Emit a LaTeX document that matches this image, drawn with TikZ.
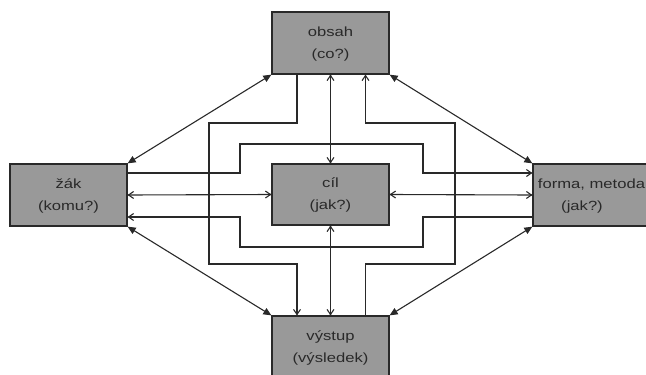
\documentclass[tikz,border=0pt]{standalone}
\usepackage{fontspec}
\setmainfont{Liberation Sans}[FakeStretch=1.25]
\usetikzlibrary{arrows.meta}
\definecolor{boxfill}{gray}{0.6}
\definecolor{ink}{gray}{0.16}
\begin{document}
\begin{tikzpicture}[x=1pt,y=-1pt,
  box/.style={draw=ink, fill=boxfill, line width=1.3pt, minimum width=117pt, minimum height=62pt, inner sep=0pt, text=ink, font=\fontsize{13.3}{22}\selectfont},
  link/.style={draw=ink, line width=1.1pt},
  barb/.style={link, -{Straight Barb[length=5pt,width=7pt]}},
  dbarb/.style={link, {Straight Barb[length=5pt,width=7pt]}-{Straight Barb[length=5pt,width=7pt]}},
  tri/.style={link, {Triangle[length=8pt,width=7pt]}-{Triangle[length=8pt,width=7pt]}},
  tipdot/.style={fill=ink}
]
\useasboundingbox (0,0) rectangle (646,375);
\clip (0,0) rectangle (646,375);

\node[box] (obsah) at (330.5,43) {\begin{tabular}{@{}c@{}}obsah\\(co?)\end{tabular}};
\node[box, minimum height=61pt] (cil) at (330.5,194.5) {\begin{tabular}{@{}c@{}}cíl\\(jak?)\end{tabular}};
\node[box] (vystup) at (330.5,347) {\begin{tabular}{@{}c@{}}výstup\\(výsledek)\end{tabular}};
\node[box] (zak) at (68.5,195) {\begin{tabular}{@{}c@{}}žák\\(komu?)\end{tabular}};
\node[box] (forma) at (591.5,195) {\begin{tabular}{@{}c@{}}forma, metoda\\(jak?)\hspace*{19pt}\end{tabular}};

% diagonal double arrows
\draw[tri] (obsah.south west) -- (zak.north east);
\draw[tri] (obsah.south east) -- (forma.north west);
\draw[tri] (zak.south east) -- (vystup.north west);
\draw[tri] (forma.south west) -- (vystup.north east);

% straight double arrows to the centre
\draw[dbarb] (obsah.south) -- (cil.north);
\draw[dbarb] (cil.south) -- (vystup.north);
\draw[dbarb] (zak.east) -- (cil.west);
\draw[dbarb] (cil.east) -- (forma.west);

% elbow connectors
\draw[barb] ([yshift=22pt]zak.east) -| (240,144) -| (423,173) -- ([yshift=22pt]forma.west);
\draw[barb] ([yshift=-22pt]forma.west) -| (423,247) -| (240,217) -- ([yshift=-22pt]zak.east);
\draw[barb] ([xshift=-33.5pt]obsah.south) |- (209,123) |- (297,264) -- ([xshift=-33.5pt]vystup.north);
\draw[barb] ([xshift=35pt]vystup.north) |- (455,264) |- (365.5,123) -- ([xshift=35pt]obsah.south);

% tip dots
\foreach \p in {obsah.south, cil.north, cil.south, vystup.north, zak.east, cil.west, cil.east, forma.west}
  \fill[tipdot] (\p) circle (1.4pt);
\fill[tipdot] ([yshift=22pt]forma.west) circle (1.2pt);
\fill[tipdot] ([yshift=-22pt]zak.east) circle (1.2pt);
\fill[tipdot] ([xshift=-33.5pt]vystup.north) circle (1.2pt);
\fill[tipdot] ([xshift=35pt]obsah.south) circle (1.2pt);
\end{tikzpicture}
\end{document}
